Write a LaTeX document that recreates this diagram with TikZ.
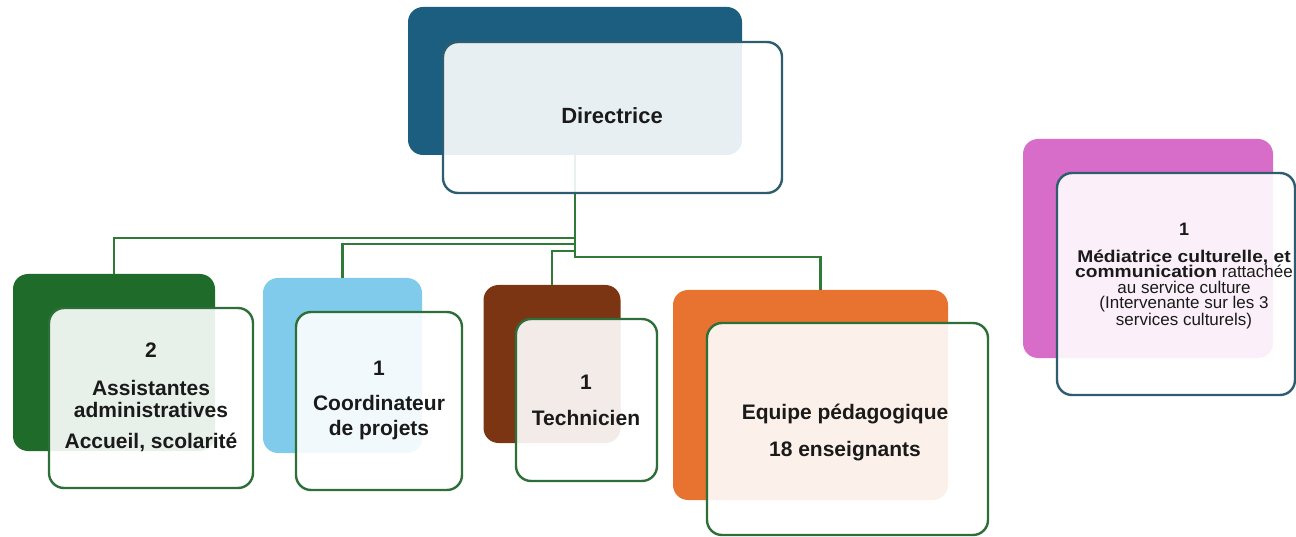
\documentclass[tikz,border=0pt]{standalone}
\usepackage{fontspec}
\setmainfont{Liberation Sans}
\newfontfamily\widefont[FakeStretch=1.13]{Liberation Sans}
\definecolor{dblue}{HTML}{1B5E80}
\definecolor{tealb}{HTML}{2F5D70}
\definecolor{dgreen}{HTML}{1E6B2A}
\definecolor{lgreen}{HTML}{2E6E38}
\definecolor{lblue}{HTML}{80CBEB}
\definecolor{brownb}{HTML}{7B3513}
\definecolor{orangeb}{HTML}{E8722F}
\definecolor{magb}{HTML}{D76DC9}
\definecolor{conng}{HTML}{2F7A36}
\definecolor{txt}{HTML}{1A1A1A}
\tikzset{
  backbox/.style={draw=none, rounded corners=15pt, inner sep=0pt},
  frontbox/.style={draw=lgreen, line width=2.4pt, fill=white, fill opacity=0.9, rounded corners=15pt, inner sep=0pt},
  conn/.style={draw=conng, line width=2.8pt},
  lbl/.style={text=txt, align=center, inner sep=0pt, font=\bfseries\fontsize{21}{23}\selectfont}
}
\begin{document}
\begin{tikzpicture}[x=1pt,y=-1pt]
\useasboundingbox (0,0) rectangle (1296,537);
% back boxes
\node[backbox, fill=dblue, minimum width=334pt, minimum height=148pt] (db) at (575,81) {};
\node[backbox, fill=dgreen, minimum width=202pt, minimum height=177pt] (b1) at (114,362.5) {};
\node[backbox, fill=lblue, minimum width=159pt, minimum height=175pt] (b2) at (342.5,365.5) {};
\node[backbox, fill=brownb, minimum width=137pt, minimum height=158pt] (b3) at (552,364) {};
\node[backbox, fill=orangeb, minimum width=275pt, minimum height=210pt] (b4) at (810.5,395) {};
\node[backbox, fill=magb, minimum width=250pt, minimum height=219pt] (bm) at (1148,248.5) {};
% connectors
\draw[conn] (db.south) -- (575,238) -| (b1.north);
\draw[conn] (db.south) -- (575,244) -| (b2.north);
\draw[conn] (db.south) -- (575,251) -| (b3.north);
\draw[conn] (db.south) -- (575,257) -| ([xshift=10pt]b4.north);
% front boxes
\node[frontbox, draw=tealb, minimum width=339pt, minimum height=151pt] (df) at (612.5,117.5) {};
\node[frontbox, minimum width=204pt, minimum height=180pt] (f1) at (151,398) {};
\node[frontbox, minimum width=166pt, minimum height=178pt] (f2) at (379,401) {};
\node[frontbox, minimum width=141pt, minimum height=162pt] (f3) at (586.5,400) {};
\node[frontbox, minimum width=281pt, minimum height=212pt] (f4) at (847.5,429) {};
\node[frontbox, draw=tealb, minimum width=238pt, minimum height=222pt] (fm) at (1176,284) {};
% texts
\node[lbl, font=\bfseries\fontsize{22}{24}\selectfont] (t0) at (612,116) {Directrice};
\node[lbl] (t1) at (151,397) {2\\[15pt]Assistantes\\[-1pt]administratives\\[8pt]Accueil, scolarité};
\node[lbl] (t2) at (379,400) {1\\[12pt]Coordinateur\\[2pt]de projets};
\node[lbl] (t3) at (586,400) {1\\[13pt]Technicien};
\node[lbl] (t4) at (845,432.5) {Equipe pédagogique\\[14pt]18 enseignants};
\node[text=txt, align=center, inner sep=0pt, font=\fontsize{17}{15.5}\selectfont] (tm) at (1184,276)
  {{\fontsize{18}{15.5}\selectfont\bfseries 1}\\[11pt]{\widefont\bfseries Médiatrice culturelle, et}\\{\widefont\bfseries communication} rattachée\\au service culture\\(Intervenante sur les 3\\services culturels)};
\end{tikzpicture}
\end{document}
